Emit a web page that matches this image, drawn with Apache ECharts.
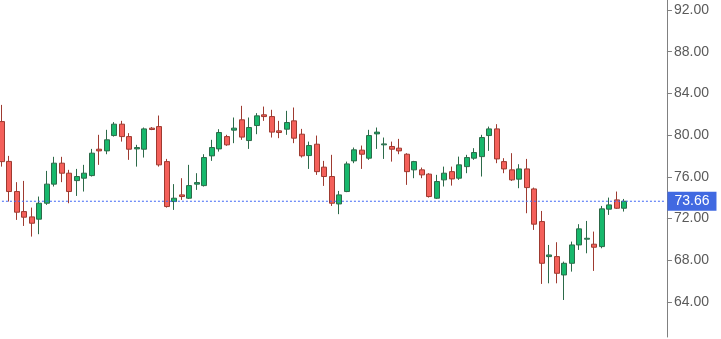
<!DOCTYPE html>
<html>
<head>
<meta charset="utf-8">
<script src="https://cdn.jsdelivr.net/npm/echarts@6.0.0/dist/echarts.min.js"></script>
<style>html,body{margin:0;padding:0;background:#fff;}#c{width:721px;height:339px;}</style>
</head>
<body>
<div id="c"></div>
<script>
var opens  = [81.30,77.48,74.59,72.67,72.16,71.94,73.47,75.30,77.31,76.35,75.64,75.87,76.12,78.65,78.49,79.96,81.05,79.86,78.68,78.65,80.67,80.82,77.46,73.63,74.27,73.95,75.30,75.16,78.01,78.68,79.86,80.48,81.47,79.48,80.92,81.95,81.78,80.41,80.57,81.37,80.09,78.04,79.13,76.93,76.03,73.40,74.59,77.53,78.56,77.79,80.12,79.07,78.91,78.75,78.17,76.67,76.67,76.26,73.95,75.71,76.50,75.87,76.98,77.79,77.94,79.96,80.60,77.46,76.67,75.78,76.76,74.84,71.71,68.35,68.35,66.59,67.71,69.47,70.02,69.54,69.31,72.90,73.79,72.99];
var closes = [77.46,74.59,72.61,72.13,71.55,73.47,75.30,77.31,76.35,74.59,76.03,76.35,78.27,78.49,79.55,81.05,79.86,78.65,78.81,80.60,80.54,77.15,73.15,73.95,74.11,75.16,75.45,77.85,78.81,80.25,79.07,80.67,79.81,80.73,81.85,81.78,80.29,80.25,81.21,79.71,78.01,79.00,76.50,76.03,73.47,74.27,77.24,78.59,78.17,79.96,80.29,79.16,78.65,78.49,76.50,77.46,76.19,74.11,75.55,76.35,75.80,77.15,77.85,78.33,79.77,80.60,77.72,76.76,75.71,76.76,74.97,71.46,67.71,68.51,66.75,67.71,69.47,71.01,70.11,69.25,72.93,73.31,72.99,73.66];
var lows   = [76.98,73.63,71.87,71.29,70.27,70.50,73.31,75.07,75.49,73.47,74.17,74.59,76.03,77.15,78.17,79.86,79.38,77.63,76.98,77.85,80.48,76.98,73.05,72.83,73.79,73.88,74.75,75.07,77.53,78.42,78.97,79.23,79.55,78.68,80.09,81.37,79.77,79.71,80.03,79.23,77.85,76.76,76.19,75.13,73.21,72.42,74.53,77.31,76.76,77.63,78.68,77.72,77.46,78.17,75.23,75.87,75.87,74.01,73.88,75.07,75.16,75.71,76.35,77.63,76.03,78.49,77.31,76.35,75.61,74.91,72.51,70.91,65.73,65.79,65.79,64.19,66.91,68.99,68.67,66.98,69.15,72.35,72.93,72.67];
var highs  = [82.90,78.01,75.49,75.61,73.05,74.11,76.57,77.92,77.92,76.67,76.76,77.15,78.68,80.03,80.51,81.25,81.37,80.19,79.07,80.73,80.77,81.88,77.72,75.30,75.87,77.15,76.35,78.17,79.55,80.57,80.03,81.69,82.81,81.69,82.11,82.74,82.43,81.37,82.33,82.65,80.60,79.38,79.96,77.53,78.11,74.65,77.46,78.81,79.00,80.51,80.73,79.77,79.38,79.64,78.27,77.53,76.89,76.35,76.19,76.98,76.98,77.94,78.11,78.75,80.03,80.82,81.05,77.79,78.27,77.21,77.72,74.97,72.73,69.47,69.73,67.87,69.79,71.46,71.77,70.75,73.21,74.01,74.59,73.88];
var tickValues = [64, 68, 72, 76, 80, 84, 88, 92];
var lastPrice = 73.66;
var totalSlots = 89;

var categories = [];
for (var i = 0; i < totalSlots; i++) categories.push('D' + (i + 1));
var ohlc = opens.map(function (o, i) { return [o, closes[i], lows[i], highs[i]]; });
var priceLine = [[0, lastPrice], [1, lastPrice]];

var chart = echarts.init(document.getElementById('c'), null, {renderer: 'canvas'});
chart.setOption({
  animation: false,
  backgroundColor: '#ffffff',
  grid: {left: -2.05, top: 0, width: 667.5, height: 337, outerBoundsMode: 'none', containLabel: false},
  xAxis: [{
    type: 'category', data: categories, boundaryGap: true,
    axisLine: {show: false}, axisTick: {show: false}, axisLabel: {show: false}, splitLine: {show: false}
  }, {
    type: 'value', min: 0, max: 1, show: false
  }],
  yAxis: {
    type: 'value', position: 'right', offset: 1.5,
    min: 60.64, max: 92.96, scale: true,
    axisLine: {show: true, onZero: false, lineStyle: {color: '#808080', width: 1}},
    axisTick: {show: true, length: 5, lineStyle: {color: '#808080'}, customValues: tickValues},
    axisLabel: {
      show: true, customValues: tickValues, margin: 7,
      color: '#5a5a5a', fontSize: 14, fontFamily: 'Liberation Sans, Arial, sans-serif',
      formatter: function (v) { return Number(v).toFixed(2); }
    },
    splitLine: {show: false}
  },
  series: [{
    type: 'candlestick',
    data: ohlc,
    barWidth: 5.5,
    itemStyle: {
      color: '#17b86c', color0: '#f4605a',
      borderColor: '#2c6a49', borderColor0: '#9e3a30', borderWidth: 1
    }
  }, {
    type: 'line',
    xAxisIndex: 1,
    data: priceLine,
    silent: true,
    symbol: 'none',
    clip: false,
    z: 10,
    lineStyle: {color: '#3d66f5', type: [2, 2], width: 1},
    endLabel: {
      show: true, distance: 2,
      formatter: function () { return lastPrice.toFixed(2); },
      backgroundColor: '#4169e1', color: '#ffffff',
      fontSize: 14, fontFamily: 'Liberation Sans, Arial, sans-serif',
      lineHeight: 16, padding: [2, 7, 1, 7]
    }
  }]
});
</script>
</body>
</html>
